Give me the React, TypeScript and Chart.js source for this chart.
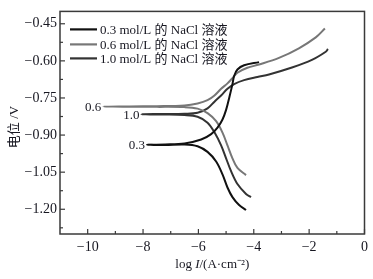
import React, { useEffect, useRef } from 'react';
import { Chart, registerables } from 'chart.js';
Chart.register(...registerables);

const seriesNames = ['0.3 mol/L 的 NaCl 溶液', '0.6 mol/L 的 NaCl 溶液', '1.0 mol/L 的 NaCl 溶液'];
const curveLabels = ['0.3', '0.6', '1.0'];
const seriesColors = ['#111111', '#777777', '#333333'];

// polarization curves: cathodic branch (from its end to E_corr), then anodic branch
const logI_03 = [-4.28, -4.53, -4.77, -4.95, -5.13, -5.36, -5.67, -6.03, -6.5, -7.2, -7.86, -7.2, -6.5, -5.9, -5.54, -5.31, -5.13, -5.0, -4.88, -4.77, -4.71, -4.59, -4.35, -3.81];
const E_03 = [-1.203, -1.183, -1.151, -1.112, -1.059, -1.007, -0.968, -0.945, -0.938, -0.940, -0.939, -0.938, -0.934, -0.918, -0.896, -0.870, -0.837, -0.798, -0.746, -0.694, -0.661, -0.635, -0.618, -0.605];

const logI_06 = [-4.28, -4.59, -4.77, -4.95, -5.13, -5.36, -5.67, -6.03, -6.5, -7.5, -8.5, -9.44, -8.5, -7.5, -6.5, -6.03, -5.67, -5.42, -5.18, -4.95, -4.77, -4.59, -4.23, -3.81, -3.09, -2.37, -1.76, -1.43];
const E_06 = [-1.062, -1.033, -0.994, -0.942, -0.890, -0.844, -0.811, -0.793, -0.787, -0.786, -0.786, -0.785, -0.784, -0.783, -0.780, -0.772, -0.759, -0.740, -0.713, -0.691, -0.670, -0.648, -0.628, -0.615, -0.588, -0.549, -0.505, -0.469];

const logI_10 = [-4.10, -4.28, -4.59, -4.82, -5.0, -5.18, -5.42, -5.67, -6.03, -6.5, -7.3, -8.06, -7.3, -6.5, -6.03, -5.67, -5.42, -5.18, -4.95, -4.71, -4.35, -3.87, -3.45, -2.62, -1.90, -1.40, -1.32];
const E_10 = [-1.151, -1.138, -1.098, -1.046, -0.994, -0.942, -0.889, -0.850, -0.826, -0.819, -0.817, -0.816, -0.815, -0.814, -0.810, -0.792, -0.765, -0.740, -0.713, -0.694, -0.678, -0.665, -0.655, -0.627, -0.596, -0.563, -0.552];

const xMajor = [-10, -8, -6, -4, -2, 0];
const xMinor = [-9, -7, -5, -3, -1];
const yMajor = [-1.2, -1.05, -0.9, -0.75, -0.6, -0.45];
const yMinor = [-1.275, -1.125, -0.975, -0.825, -0.675, -0.525];

const SERIF = '"Liberation Serif", "Noto Sans CJK SC", serif';
const TEXT = '#161620';

const fmt = (v: number, d: number) => {
  const s = Math.abs(v).toFixed(d);
  return v < 0 ? '\u2212' + s : s;
};

const decor = {
  id: 'decor',
  afterDraw(chart: any) {
    const { ctx, chartArea: a, scales } = chart;
    const xs = scales.x, ys = scales.y;
    ctx.save();
    ctx.strokeStyle = '#3a3a3a';
    ctx.lineWidth = 1.5;
    ctx.strokeRect(a.left, a.top, a.right - a.left, a.bottom - a.top);
    ctx.lineWidth = 1.2;
    const seg = (x1: number, y1: number, x2: number, y2: number) => {
      ctx.beginPath(); ctx.moveTo(x1, y1); ctx.lineTo(x2, y2); ctx.stroke();
    };
    xMajor.forEach(v => { const p = xs.getPixelForValue(v); seg(p, a.bottom, p, a.bottom - 5); });
    xMinor.forEach(v => { const p = xs.getPixelForValue(v); seg(p, a.bottom, p, a.bottom - 3); });
    yMajor.forEach(v => { const p = ys.getPixelForValue(v); seg(a.left, p, a.left + 5, p); });
    yMinor.forEach(v => { const p = ys.getPixelForValue(v); seg(a.left, p, a.left + 3, p); });

    // curve labels at E_corr start points
    ctx.fillStyle = TEXT;
    ctx.font = '13px ' + SERIF;
    ctx.textAlign = 'right';
    ctx.textBaseline = 'middle';
    chart.data.datasets.forEach((ds: any, i: number) => {
      let best = ds.data[0];
      ds.data.forEach((p: any) => { if (p.x < best.x) best = p; });
      ctx.fillText(curveLabels[i], xs.getPixelForValue(best.x) - 2, ys.getPixelForValue(best.y) + 1);
    });

    // legend
    ctx.textAlign = 'left';
    const rows = [18, 33, 47];
    seriesNames.forEach((n, i) => {
      const y = a.top + rows[i];
      ctx.strokeStyle = seriesColors[i];
      ctx.lineWidth = 2.2;
      seg(a.left + 10, y, a.left + 37, y);
      ctx.fillStyle = TEXT;
      ctx.fillText(n, a.left + 40, y + 1);
    });

    // y title
    ctx.save();
    ctx.translate(15, 127);
    ctx.rotate(-Math.PI / 2);
    ctx.textAlign = 'center';
    ctx.font = '13px ' + SERIF;
    ctx.fillText('电位 /V', 0, 0);
    ctx.restore();

    // x title
    const parts = [
      { t: 'log ', f: '13px ' + SERIF },
      { t: 'I', f: 'italic 13px ' + SERIF },
      { t: '/(A·cm⁻²)', f: '13px ' + SERIF },
    ];
    let total = 0;
    parts.forEach(p => { ctx.font = p.f; total += ctx.measureText(p.t).width; });
    let x = (a.left + a.right) / 2 - total / 2;
    parts.forEach(p => { ctx.font = p.f; ctx.fillText(p.t, x, 265); x += ctx.measureText(p.t).width; });
    ctx.restore();
  },
};

export default function App() {
  const ref = useRef<HTMLCanvasElement>(null);
  useEffect(() => {
    document.body.style.margin = '0';
    const xsArr = [logI_03, logI_06, logI_10];
    const ysArr = [E_03, E_06, E_10];
    const chart = new Chart(ref.current!, {
      type: 'scatter',
      data: {
        datasets: seriesNames.map((n, i) => ({
          label: n,
          data: xsArr[i].map((x, j) => ({ x, y: ysArr[i][j] })),
          showLine: true,
          borderColor: seriesColors[i],
          borderWidth: 2,
          pointRadius: 0,
          tension: 0.35,
          fill: false,
        })),
      },
      options: {
        animation: false,
        responsive: false,
        layout: { padding: { top: 5, right: 7, left: 0, bottom: 0 } },
        plugins: { legend: { display: false }, tooltip: { enabled: false } },
        scales: {
          x: {
            type: 'linear',
            min: -11,
            max: 0,
            grid: { display: false, drawTicks: false },
            border: { display: false },
            afterBuildTicks: (s: any) => { s.ticks = xMajor.map(v => ({ value: v })); },
            afterFit: (s: any) => { s.height = 45; },
            ticks: {
              padding: 5,
              color: TEXT,
              font: { family: SERIF, size: 14 },
              callback: (v: any) => fmt(Number(v), 0),
            },
          },
          y: {
            type: 'linear',
            min: -1.3,
            max: -0.4,
            grid: { display: false, drawTicks: false },
            border: { display: false },
            afterBuildTicks: (s: any) => { s.ticks = yMajor.map(v => ({ value: v })); },
            afterFit: (s: any) => { s.width = 60; },
            ticks: {
              padding: 3,
              color: TEXT,
              font: { family: SERIF, size: 14 },
              callback: (v: any) => fmt(Number(v), 2),
            },
          },
        },
      },
      plugins: [decor],
    } as any);
    return () => chart.destroy();
  }, []);
  return (
    <div style={{ width: 373, height: 279 }}>
      <canvas ref={ref} width={373} height={279} />
    </div>
  );
}
